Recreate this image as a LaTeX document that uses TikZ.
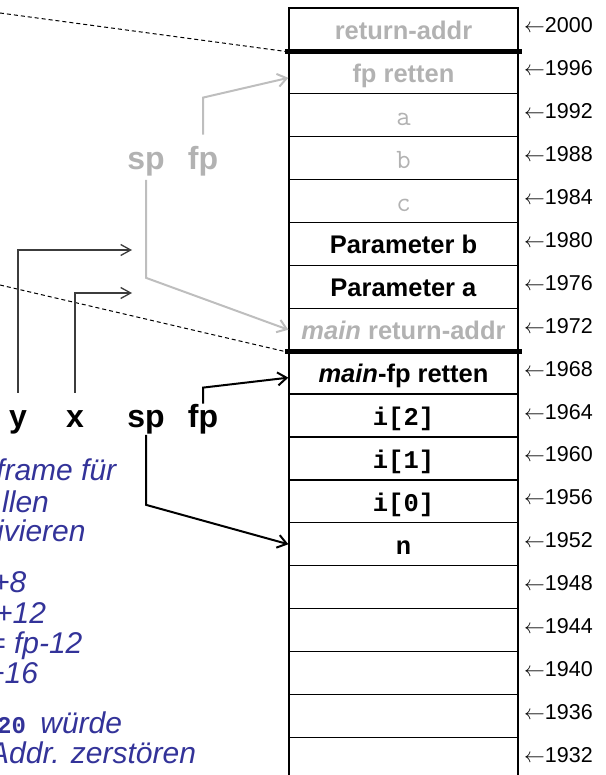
\documentclass[tikz,border=0pt]{standalone}
\usepackage{fontspec}
\setmainfont{Liberation Sans}
\newfontfamily\monofont{Liberation Mono}
\usetikzlibrary{arrows.meta}
\definecolor{txtgray}{RGB}{178,178,178}
\definecolor{arrgray}{RGB}{190,190,190}
\definecolor{blu}{RGB}{51,51,153}
\definecolor{darkline}{RGB}{60,60,60}
\begin{document}
\begin{tikzpicture}[x=1pt,y=-1pt,
  cell/.style={draw, line width=1.3pt, minimum width=229pt, minimum height=42.9pt, inner sep=0pt, text height=22pt, text depth=2pt, font=\fontsize{25.5}{30}\selectfont},
  ttcell/.style={cell, text=txtgray, font=\fontsize{28}{30}\selectfont\ttfamily},
  addr/.style={anchor=base west, inner sep=0pt, font=\fontsize{21.5}{24}\selectfont},
  ptr/.style={anchor=base, inner sep=0pt, font=\fontsize{32}{36}\selectfont\bfseries},
  note/.style={anchor=base west, inner sep=0pt, text=blu, font=\fontsize{30}{31}\selectfont\itshape},
  garrow/.style={draw=arrgray, line width=2pt, -{Straight Barb[length=9pt,width=13pt]}},
  barrow/.style={draw=black, line width=2pt, -{Straight Barb[length=9pt,width=13pt]}},
  tarrow/.style={draw=darkline, line width=1.3pt, -{Straight Barb[length=10pt,width=11pt]}},
  sepline/.style={line width=1pt, dash pattern=on 4pt off 3pt},
  thickline/.style={line width=5pt},
]
\useasboundingbox (0,0) rectangle (605,775);

% stack cells
\node[cell,text=txtgray] (r1) at (403.5,29.45) {\textbf{return-addr}};
\node[cell,text=txtgray] (r2) at (403.5,72.35) {\textbf{fp retten}};
\node[ttcell] (r3) at (403.5,115.25) {a};
\node[ttcell] (r4) at (403.5,158.15) {b};
\node[ttcell] (r5) at (403.5,201.05) {c};
\node[cell] (r6) at (403.5,243.95) {\textbf{Parameter b}};
\node[cell] (r7) at (403.5,286.85) {\textbf{Parameter a}};
\node[cell,text=txtgray] (r8) at (403.5,329.75) {\textbf{\textit{main} return-addr}};
\node[cell] (r9) at (403.5,372.65) {\textbf{\textit{main}-fp retten}};
\node[cell] (r10) at (403.5,415.55) {\monofont\bfseries i[2]};
\node[cell] (r11) at (403.5,458.45) {\monofont\bfseries i[1]};
\node[cell] (r12) at (403.5,501.35) {\monofont\bfseries i[0]};
\node[cell] (r13) at (403.5,544.25) {\monofont\bfseries n};
\node[cell] (r14) at (403.5,587.15) {};
\node[cell] (r15) at (403.5,630.05) {};
\node[cell] (r16) at (403.5,672.95) {};
\node[cell] (r17) at (403.5,715.85) {};
\node[cell] (r18) at (403.5,758.75) {};

% frame separators
\draw[thickline] ([xshift=-3pt]r1.south west) -- ([xshift=3pt]r1.south east);
\draw[thickline] ([xshift=-3pt]r8.south west) -- ([xshift=3pt]r8.south east);

% addresses
\foreach \i in {1,...,18}{
  \pgfmathtruncatemacro{\ad}{2004-4*\i}
  \node[addr] (a\i) at (524,{8+42.9*(\i-0.5)+3.5}) {$\leftarrow$\ad};
}

% dashed lines
\coordinate (d1) at (0,13);
\coordinate (d2) at (0,285);
\draw[sepline] (d1) -- ([xshift=-2pt]r1.south west);
\draw[sepline] (d2) -- ([xshift=-2pt]r8.south west);

% old sp / fp (gray)
\node[ptr,text=txtgray] (gsp) at (146,170) {sp};
\node[ptr,text=txtgray] (gfp) at (203,170) {fp};
\draw[garrow] ([yshift=12pt]gfp.north) -- ++(0,-37) -- ([yshift=-5.5pt]r2.west);
\draw[garrow] ([yshift=-3pt]gsp.south) -- ++(0,98) -- (r8.west);

% current pointers
\node[ptr] (ylab) at (18,427) {y};
\node[ptr] (xlab) at (75,427) {x};
\node[ptr] (bsp) at (146,427) {sp};
\node[ptr] (bfp) at (203,427) {fp};
\coordinate (yend) at (132,250);
\coordinate (xend) at (132,293);
\draw[tarrow] ([yshift=17pt]ylab.north) |- (yend);
\draw[tarrow] ([yshift=17pt]xlab.north) |- (xend);
\draw[barrow] (bfp.north) -- ++(0,-16) -- ([yshift=-5pt]r9.west);
\draw[barrow] ([yshift=-1pt]bsp.south) -- ++(0,70) -- (r13.west);

% blue notes (cut at the left edge)
\node[note] (n1) at (-4,480) {frame für};
\node[note] (n2) at (2,512) {llen};
\node[note] (n3) at (-3,541) {ivieren};
\node[note] (n4) at (-8,592) {+8};
\node[note] (n5) at (-5,623) {+12};
\node[note] (n6) at (-12,653) {= fp-12};
\node[note] (n7) at (-13,683) {+16};
\node[note] (n8) at (-3,733) {{\upshape\monofont\bfseries\fontsize{24}{31}\selectfont 20 }würde};
\node[note] (n9) at (-11,763) {Addr. zerstören};
\end{tikzpicture}
\end{document}
